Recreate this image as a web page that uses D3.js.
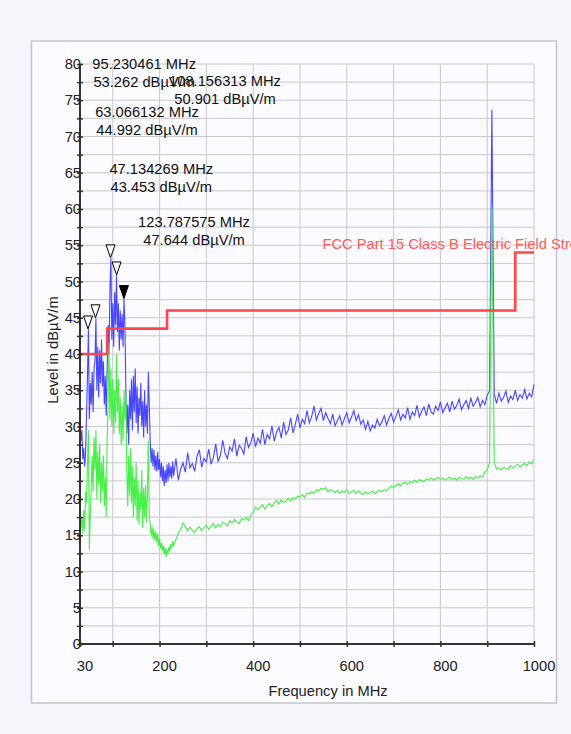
<!DOCTYPE html>
<html>
<head>
<meta charset="utf-8">
<script src="https://cdn.jsdelivr.net/npm/d3@7"></script>
<style>
  html, body { margin: 0; padding: 0; background: #f5f6fc; }
  svg { display: block; }
  text { font-family: "Liberation Sans", Arial, sans-serif; }
</style>
</head>
<body>
<svg id="chart" width="571" height="734"></svg>
<script>
// ---- Sweep data (dBµV/m) ----
// Low band: 30 .. 228 MHz in 2 MHz steps
const lowStart = 30, lowStep = 2;
const peakLow = [
  31, 28, 29.5, 25.5, 27, 24.5, 26.5, 32, 37, 43.4,
  31, 36, 33, 37.5, 32, 38, 39, 44.9, 35, 41,
  34, 40.5, 36, 42, 35.5, 39, 33, 37, 31.5, 38,
  44, 40, 49, 53.2, 42, 47, 41, 48.5, 44, 50.9,
  43, 47, 40.5, 46, 42, 45.5, 41, 47.6, 44, 35,
  29, 33, 27.5, 35, 31, 36.5, 29.5, 37, 32, 38,
  30.5, 35.5, 29, 34, 31.5, 36, 30, 33.5, 28.5, 35,
  30, 33, 29, 37.5, 33, 28, 25, 27, 24.5, 26.8,
  24, 26, 23.8, 26.5, 24, 25.5, 23, 25, 22.5, 24.5,
  21.8, 24, 22.2, 24.8, 22.5, 25, 23, 24.5, 22.8, 25.2
];
const avgLow = [
  20, 16, 17.5, 15.2, 18.5, 15.8, 21, 19.5, 25, 29.5,
  13, 18, 22, 26, 21, 28.5, 24, 29.5, 20, 26.5,
  22, 27.5, 19.5, 25, 21, 26, 19, 23, 17.5, 28,
  33, 41.5, 31, 38, 30, 36.5, 29, 35, 30.5, 40,
  32, 36.6, 29, 34, 27.5, 33, 28, 35, 31, 34.5,
  24, 19, 26, 20.5, 27, 19.5, 24.5, 17.5, 23, 19,
  25, 17, 22.5, 16.5, 21, 18.5, 24, 16, 21.5, 17.5,
  22, 16.8, 20.5, 28, 18, 16.5, 15, 16.2, 14.5, 15.8,
  14.3, 15.5, 14, 15.2, 13.5, 14.5, 13.2, 14, 12.8, 13.6,
  12.4, 13.3, 12.0, 13.0, 12.5, 13.4, 12.8, 13.8, 13.2, 14.2
];
// High band: 230 .. 1000 MHz in 5 MHz steps
const highStart = 230, highStep = 5;
const peakHigh = [
  23.2, 25.6, 22.6, 24.1, 25.0, 23.7, 26.4, 24.3, 24.9, 23.8,
  25.9, 26.8, 24.4, 25.6, 25.1, 26.9, 24.8, 25.7, 27.6, 25.2,
  26.0, 28.1, 26.3, 25.6, 27.2, 26.6, 28.3, 25.9, 27.4, 27.0,
  26.2, 28.6, 27.1, 27.8, 29.1, 27.2, 28.4, 27.7, 29.6, 27.5,
  28.9, 28.3, 30.1, 28.0, 29.2, 29.9, 28.4, 30.6, 28.9, 29.5,
  31.2, 29.1, 30.3, 31.7, 29.8, 31.0, 30.4, 32.2, 30.5, 31.4,
  32.8, 30.9, 31.8, 32.5, 30.8, 31.9, 31.1, 30.4, 31.7, 30.1,
  30.8, 31.5, 30.2, 31.1, 31.9, 30.5, 31.3, 32.2, 30.8, 31.6,
  30.3, 30.9, 29.6, 30.7, 29.4, 30.2, 29.8, 31.0, 30.1, 30.6,
  31.5, 30.2, 31.1, 31.8, 30.6, 31.4, 32.3, 30.9, 31.7, 31.2,
  32.6, 31.0, 32.0, 31.5, 32.9, 31.3, 32.1, 32.7, 31.5, 33.1,
  32.0, 31.7, 32.8, 32.2, 33.4, 31.9, 32.6, 33.2, 32.0, 33.5,
  32.4, 32.9, 33.8, 32.3, 33.0, 33.6, 32.5, 33.9, 32.8, 33.3,
  34.0, 32.7, 33.6, 33.0, 34.3, 34.9, 73.7, 34.5, 33.2, 34.6,
  33.5, 34.0, 34.9, 33.3, 34.2, 33.7, 35.0, 33.6, 34.4, 33.9,
  35.1, 33.8, 34.6, 34.1, 35.8
];
const avgHigh = [
  13.6, 14.4, 15.3, 15.8, 16.7, 16.2, 15.6, 16.1, 15.7, 15.4,
  15.9, 16.2, 15.6, 16.0, 16.4, 15.8, 16.3, 16.6, 16.0, 16.5,
  16.2, 16.8, 16.6, 16.3, 17.0, 16.7, 17.2, 16.8, 16.6, 17.3,
  17.1, 17.5, 17.0, 17.8, 18.2, 18.9, 18.5, 18.8, 19.2, 18.6,
  19.1, 19.4, 18.9, 19.5, 19.8, 19.3, 19.9, 19.5, 19.7, 20.1,
  19.7, 20.2, 20.0, 20.4, 20.3, 20.6, 20.2, 20.8, 20.7, 21.0,
  20.8, 21.3, 21.1, 21.5, 21.3, 21.6, 21.0, 21.3, 21.1, 20.9,
  21.2, 20.8, 21.1, 20.9, 21.3, 20.8, 21.0, 21.2, 20.7, 21.1,
  20.8, 20.6, 21.0, 20.7, 20.9, 21.1, 20.7, 21.0, 21.2, 21.0,
  21.3, 21.1, 21.5, 21.8, 21.6, 21.9, 22.1, 21.8, 22.2, 22.3,
  22.0, 22.4, 22.2, 22.6, 22.3, 22.7, 22.5, 22.4, 22.8, 22.6,
  22.9, 22.6, 22.8, 23.0, 22.7, 22.9, 22.6, 22.8, 23.0, 22.7,
  22.9, 22.6, 23.0, 22.8, 22.7, 23.1, 22.8, 23.0, 22.7, 23.1,
  22.9, 23.2, 23.0, 23.7, 24.0, 25.0, 60.2, 25.0, 24.1, 24.3,
  24.0, 24.4, 24.2, 24.1, 24.6, 24.3, 24.5, 24.8, 24.4, 24.7,
  24.9, 24.6, 25.1, 24.8, 25.4
];

// FCC Part 15 Class B limit (step edges)
const limitFreq  = [30, 88, 216, 960, 1000];
const limitLevel = [40, 43.5, 46, 54, 54];
const limitName  = "FCC Part 15 Class B Electric Field Strength";

// Markers
const markerFreq  = [95.230461, 108.156313, 63.066132, 47.134269, 123.787575];
const markerLevel = [53.262, 50.901, 44.992, 43.453, 47.644];
const activeMarker = 4;

// Axis ticks
const xTicks = [30, 100, 200, 300, 400, 500, 600, 700, 800, 900, 1000];
const xTickLabels = [30, 200, 400, 600, 800, 1000];
const yTicks = d3.range(0, 80.01, 2.5);

// ---- Layout ----
const W = 571, H = 734;
const plot = { left: 80, right: 534, top: 64, bottom: 644 };
const fontSize = 14.7;
const markerLabelPos = [[144.2, 64], [225, 81], [147, 112], [161.3, 168.5], [194, 222]];
const markerLineGap = 18;

const svg = d3.select("#chart");

// panel
svg.append("rect").attr("x", 0).attr("y", 0).attr("width", W).attr("height", H).attr("fill", "#f5f6fc");
svg.append("rect")
  .attr("x", 31.5).attr("y", 41).attr("width", 525).attr("height", 662)
  .attr("fill", "#fafaff").attr("stroke", "#c4c4cc").attr("stroke-width", 1.5);

const x = d3.scaleLinear().domain([30, 1000]).range([plot.left, plot.right]);
const y = d3.scaleLinear().domain([0, 80]).range([plot.bottom, plot.top]);

// grid
const grid = svg.append("g").attr("stroke", "#c9c9cc").attr("stroke-width", 1);
grid.selectAll("line.h").data(yTicks.filter(v => v > 0)).join("line")
  .attr("x1", plot.left).attr("x2", plot.right)
  .attr("y1", d => y(d)).attr("y2", d => y(d));
grid.selectAll("line.v").data(xTicks.filter(v => v > 30)).join("line")
  .attr("x1", d => x(d)).attr("x2", d => x(d))
  .attr("y1", plot.top).attr("y2", plot.bottom);

// traces
const lowFreq  = peakLow.map((_, i) => lowStart + i * lowStep);
const highFreq = peakHigh.map((_, i) => highStart + i * highStep);
const toPts = (fs, vs) => fs.map((f, i) => [f, vs[i]]);
const peakPts = toPts(lowFreq, peakLow).concat(toPts(highFreq, peakHigh));
const avgPts  = toPts(lowFreq, avgLow).concat(toPts(highFreq, avgHigh));
const line = d3.line().x(d => x(d[0])).y(d => y(d[1]));

svg.append("path").datum(peakPts).attr("d", line)
  .attr("fill", "none").attr("stroke", "#4646ff").attr("stroke-width", 1.1);
svg.append("path").datum(avgPts).attr("d", line)
  .attr("fill", "none").attr("stroke", "#46f046").attr("stroke-width", 1.1);

// limit line
const limitPts = limitFreq.map((f, i) => [f, limitLevel[i]]);
svg.append("path").datum(limitPts)
  .attr("d", d3.line().x(d => x(d[0])).y(d => y(d[1])).curve(d3.curveStepAfter))
  .attr("fill", "none").attr("stroke", "#ff4646").attr("stroke-width", 2.6);
svg.append("text")
  .attr("x", 322.5).attr("y", 244 + fontSize * 0.35)
  .attr("font-size", fontSize).attr("fill", "#ff5a5a")
  .text(limitName);

// axes
const yAxis = d3.axisLeft(y).tickValues(yTicks)
  .tickFormat(d => (d % 5 === 0 ? d3.format("d")(d) : ""));
const gy = svg.append("g").attr("transform", `translate(${plot.left},0)`).call(yAxis);
gy.select(".domain").attr("stroke", "#333").attr("stroke-width", 2);
gy.selectAll(".tick line").attr("x1", -3).attr("x2", 3).attr("stroke", "#333").attr("stroke-width", 1.5);
gy.selectAll(".tick text").attr("x", 1).attr("font-size", fontSize).attr("fill", "#222")
  .attr("font-family", "Liberation Sans, Arial, sans-serif");

const xAxis = d3.axisBottom(x).tickValues(xTicks)
  .tickFormat(d => (xTickLabels.includes(d) ? d3.format("d")(d) : ""));
const gx = svg.append("g").attr("transform", `translate(0,${plot.bottom})`).call(xAxis);
gx.select(".domain").attr("stroke", "#333").attr("stroke-width", 2);
gx.selectAll(".tick line").attr("y1", -3).attr("y2", 3).attr("stroke", "#333").attr("stroke-width", 1.5);
gx.selectAll(".tick text").attr("x", 4.5).attr("y", 17).attr("font-size", fontSize).attr("fill", "#222")
  .attr("font-family", "Liberation Sans, Arial, sans-serif");
gy.selectAll(".domain").attr("d", `M0,${plot.top}V${plot.bottom}`);
gx.selectAll(".domain").attr("d", `M${plot.left},0H${plot.right}`);

// axis titles
svg.append("text")
  .attr("x", 328).attr("y", 691 + fontSize * 0.35)
  .attr("text-anchor", "middle").attr("font-size", fontSize).attr("fill", "#222")
  .text("Frequency in MHz");
svg.append("text")
  .attr("transform", `translate(${53 + fontSize * 0.35},350) rotate(-90)`)
  .attr("text-anchor", "middle").attr("font-size", fontSize).attr("fill", "#222")
  .text("Level in dBµV/m");

// markers
const mk = svg.append("g");
markerFreq.forEach((f, i) => {
  const px = x(f), py = y(markerLevel[i]);
  mk.append("path")
    .attr("d", `M${px - 4.5},${py - 13}L${px + 4.5},${py - 13}L${px},${py}Z`)
    .attr("fill", i === activeMarker ? "#000" : "#fafaff")
    .attr("stroke", "#000").attr("stroke-width", 1);
});
markerFreq.forEach((f, i) => {
  const [cx, cy] = markerLabelPos[i];
  const t = mk.append("text").attr("text-anchor", "middle").attr("font-size", fontSize).attr("fill", "#111");
  t.append("tspan").attr("x", cx).attr("y", cy + fontSize * 0.35).text(`${f.toFixed(6)} MHz`);
  t.append("tspan").attr("x", cx).attr("y", cy + markerLineGap + fontSize * 0.35)
    .text(`${markerLevel[i].toFixed(3)} dBµV/m`);
});
</script>
</body>
</html>
